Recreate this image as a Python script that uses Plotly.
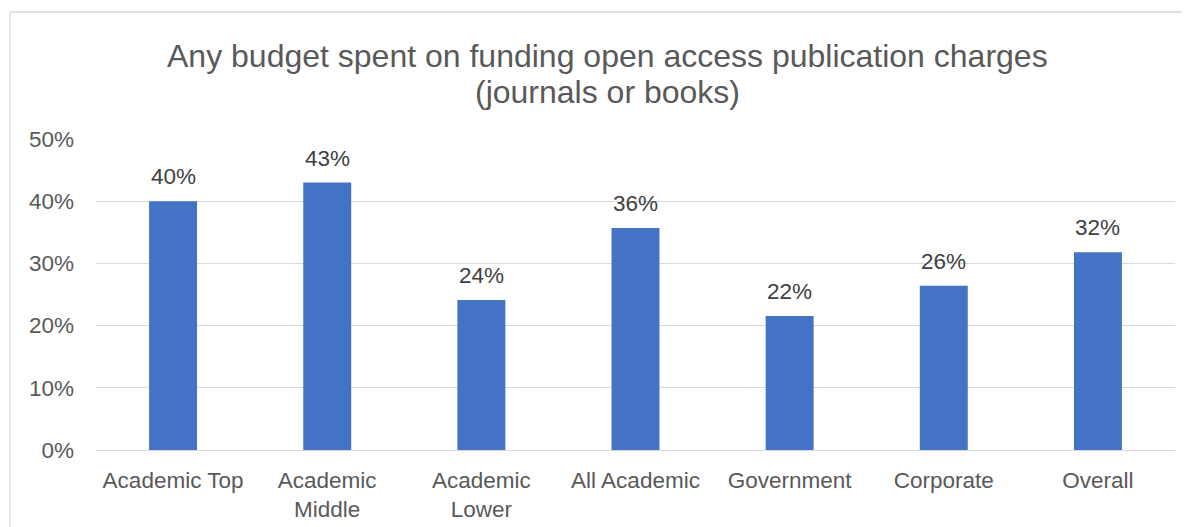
import plotly.graph_objects as go

categories = ["Academic Top", "Academic<br>Middle", "Academic<br>Lower", "All Academic",
              "Government", "Corporate", "Overall"]
values = [0.40, 0.430, 0.241, 0.357, 0.2155, 0.264, 0.318]
y_ticks = [0, 0.1, 0.2, 0.3, 0.4, 0.5]
y_tick_labels = ["0%", "10%", "20%", "30%", "40%", "50%"]
title_lines = ["Any budget spent on funding open access publication charges",
               "(journals or books)"]

# page has an 8px body margin, so the figure is sized/positioned to compensate
OFF = 8
W, H = 1190 - OFF, 527 - OFF
L, R, T, B = 96 - OFF, W - (1175 - OFF), 139 - OFF, H - (450 - OFF)
FONT = "Liberation Sans, Arial, sans-serif"
pw = W - L - R
ph = H - T - B

fig = go.Figure()
fig.add_trace(go.Bar(
    x=categories, y=values,
    marker=dict(color="#4472C4", line=dict(width=0)),
    width=0.311,
    hoverinfo="skip",
))

annotations = []
for c, v in zip(categories, values):
    annotations.append(dict(
        x=c, y=v, xref="x", yref="y", text=f"{round(v*100):.0f}%",
        showarrow=False, yanchor="bottom", yshift=10,
        font=dict(family=FONT, size=22.5, color="#404040"),
    ))

# title lines, centred at page pixels (607.5, 56) and (607.5, 92)
for line, ypx in zip(title_lines, [56, 92]):
    xpx = 607.5 - OFF
    ypx = ypx - OFF
    annotations.append(dict(
        x=(xpx - L) / pw, y=1 + (T - ypx) / ph, xref="paper", yref="paper",
        text=line, showarrow=False, xanchor="center", yanchor="middle",
        font=dict(family=FONT, size=32, color="#595959"),
    ))

border = dict(
    type="rect", xref="paper", yref="paper",
    x0=(10 - OFF - L) / pw, x1=(W + 40 - L) / pw,
    y0=-(B + 40) / ph, y1=1 + (T - (12 - OFF)) / ph,
    line=dict(color="#D9D9D9", width=1.3), fillcolor="rgba(0,0,0,0)", layer="below",
)

fig.update_layout(
    width=W, height=H,
    margin=dict(l=L, r=R, t=T, b=B, pad=0, autoexpand=False),
    paper_bgcolor="white", plot_bgcolor="white",
    showlegend=False,
    annotations=annotations,
    shapes=[border],
    font=dict(family=FONT, size=22.5, color="#595959"),
    xaxis=dict(
        showgrid=False, showline=True, linecolor="#D9D9D9", linewidth=1.3,
        tickfont=dict(family=FONT, size=22.5, color="#595959"),
        ticks="", ticklabelstandoff=10, fixedrange=True, automargin=False,
    ),
    yaxis=dict(
        range=[0, 0.5], tickvals=y_ticks, ticktext=y_tick_labels,
        showgrid=True, gridcolor="#D9D9D9", gridwidth=1.3,
        zeroline=False, showline=False,
        tickfont=dict(family=FONT, size=22.5, color="#595959"),
        ticks="", ticklabelstandoff=21, fixedrange=True, automargin=False,
    ),
)

fig.write_html("out.html")
